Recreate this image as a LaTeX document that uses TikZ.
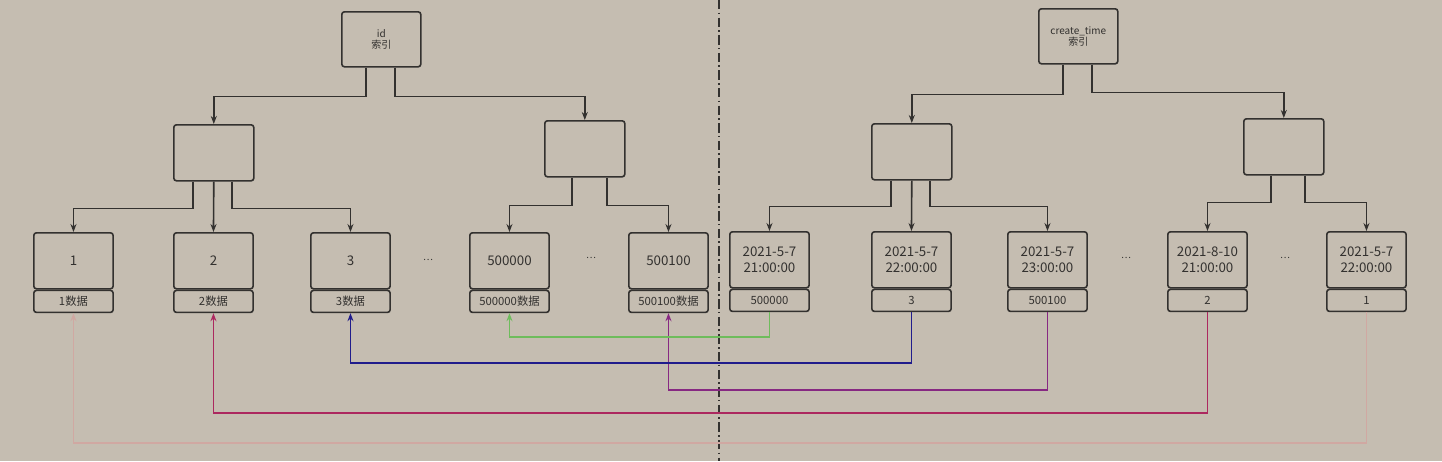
\documentclass[tikz,border=0pt]{standalone}
\usepackage{fontspec}
\setmainfont{Noto Sans CJK SC}
\usetikzlibrary{arrows.meta}
\definecolor{bg}{RGB}{197,189,177}
\definecolor{ink}{RGB}{51,49,47}
\definecolor{cgreen}{RGB}{110,188,92}
\definecolor{cblue}{RGB}{32,28,140}
\definecolor{cpurple}{RGB}{135,40,130}
\definecolor{ccrimson}{RGB}{172,40,95}
\definecolor{cpink}{RGB}{208,168,162}
\begin{document}
\begin{tikzpicture}[x=0.75pt,y=-0.75pt,
  basebox/.style={draw=ink, line width=1.2pt, rounded corners=2pt, inner sep=0pt, text=ink, align=center},
  rootbox/.style={basebox, minimum width=59.25pt, minimum height=41.25pt, anchor=north west, font=\fontsize{7.5}{8.4}\selectfont},
  midbox/.style={basebox, minimum width=60pt, minimum height=42pt, anchor=north west},
  leafbox/.style={basebox, minimum width=59.5pt, minimum height=42pt, anchor=north west, font=\fontsize{10}{12}\selectfont},
  databox/.style={basebox, minimum width=59.5pt, minimum height=16.5pt, anchor=north, font=\fontsize{8.5}{10}\selectfont},
  dots/.style={text=ink, font=\fontsize{7}{8}\selectfont, inner sep=0pt},
  edge/.style={draw=ink, line width=1.2pt, -{Stealth[length=6pt,width=4.5pt]}},
  cedge/.style={draw=#1, line width=1.2pt, -{Stealth[length=6pt,width=4.5pt]}}
]
\fill[bg] (0,0) rectangle (1442,461);
\useasboundingbox (0,0) rectangle (1442,461);

% divider
\draw[ink, line width=1pt, dash pattern=on 7pt off 2.5pt on 1.2pt off 2.5pt] (719,0) -- (719,461);

% ---------- left tree ----------
\node[rootbox] (rootL) at (341,11) {id\\索引};
\node[midbox] (midL) at (173,124) {};
\node[midbox] (midR) at (544,120) {};

\node[leafbox] (l1) at (33,232) {1};
\node[databox] (l1d) at (l1.south) {1数据};
\node[leafbox] (l2) at (173,232) {2};
\node[databox] (l2d) at (l2.south) {2数据};
\node[leafbox] (l3) at (310,232) {3};
\node[databox] (l3d) at (l3.south) {3数据};
\node[leafbox] (l4) at (469,232) {500000};
\node[databox] (l4d) at (l4.south) {500000数据};
\node[leafbox] (l5) at (628,232) {500100};
\node[databox] (l5d) at (l5.south) {500100数据};
\node[dots] (d1) at (428,260) {⋯};
\node[dots] (d2) at (591,258) {⋯};

\draw[edge] (rootL.south west) ++(25,0) -- ++(0,29) -| (midL.north);
\draw[edge] (rootL.south west) ++(54,0) -- ++(0,29) -| (midR.north);
\draw[edge] (midL.south west) ++(20,0) -- ++(0,27) -| (l1.north);
\draw[edge] (midL.south) -- (l2.north);
\draw[edge] (midL.south west) ++(59,0) -- ++(0,27) -| (l3.north);
\draw[edge] (midR.south west) ++(28,0) -- ++(0,28) -| (l4.north);
\draw[edge] (midR.south west) ++(63,0) -- ++(0,28) -| (l5.north);

% ---------- right tree ----------
\node[rootbox] (rootR) at (1038,8) {create\_time\\索引};
\node[midbox] (midR1) at (871,123) {};
\node[midbox] (midR2) at (1243,118) {};

\node[leafbox] (r1) at (729,231) {2021-5-7\\21:00:00};
\node[databox] (r1d) at (r1.south) {500000};
\node[leafbox] (r2) at (871,231) {2021-5-7\\22:00:00};
\node[databox] (r2d) at (r2.south) {3};
\node[leafbox] (r3) at (1007,231) {2021-5-7\\23:00:00};
\node[databox] (r3d) at (r3.south) {500100};
\node[leafbox] (r4) at (1167,231) {2021-8-10\\21:00:00};
\node[databox] (r4d) at (r4.south) {2};
\node[leafbox] (r5) at (1326,231) {2021-5-7\\22:00:00};
\node[databox] (r5d) at (r5.south) {1};
\node[dots] (d3) at (1126,258) {⋯};
\node[dots] (d4) at (1285,258) {⋯};

\draw[edge] (rootR.south west) ++(25,0) -- ++(0,30) -| (midR1.north);
\draw[edge] (rootR.south west) ++(54,0) -- ++(0,28) -| (midR2.north);
\draw[edge] (midR1.south west) ++(20,0) -- ++(0,26) -| (r1.north);
\draw[edge] (midR1.south) -- (r2.north);
\draw[edge] (midR1.south west) ++(59,0) -- ++(0,26) -| (r3.north);
\draw[edge] (midR2.south west) ++(28,0) -- ++(0,27) -| (r4.north);
\draw[edge] (midR2.south west) ++(62,0) -- ++(0,27) -| (r5.north);

% ---------- cross links ----------
\draw[cedge=cpink] (r5d.south) -- ++(0,131) -| (l1d.south);
\draw[cedge=ccrimson] (r4d.south) -- ++(0,101) -| (l2d.south);
\draw[cedge=cpurple] (r3d.south) -- ++(0,78) -| (l5d.south);
\draw[cedge=cblue] (r2d.south) -- ++(0,51) -| (l3d.south);
\draw[cedge=cgreen] (r1d.south) -- ++(0,25) -| (l4d.south);
\end{tikzpicture}
\end{document}
